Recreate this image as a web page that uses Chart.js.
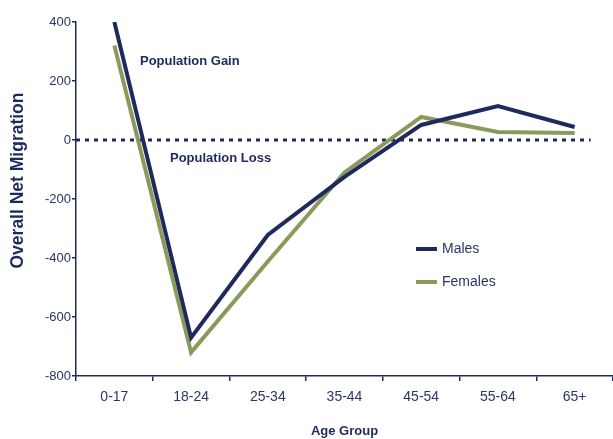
<!DOCTYPE html>
<html>
<head>
<meta charset="utf-8">
<script src="https://cdn.jsdelivr.net/npm/chart.js@4/dist/chart.umd.min.js"></script>
<style>
  html, body { margin: 0; padding: 0; background: #fff; }
  #wrap { width: 613px; height: 439px; }
</style>
</head>
<body>
<div id="wrap"><canvas id="chart" width="613" height="439"></canvas></div>
<script>
const ageGroups = ["0-17", "18-24", "25-34", "35-44", "45-54", "55-64", "65+"];
const males = [400, -670, -322, -125, 51, 115, 44];
const females = [320, -720, -412, -110, 78, 27, 24];
const yTicks = [-800, -600, -400, -200, 0, 200, 400];

const navy = "#1f2a5c";
const olive = "#8a9a5b";
const textColor = "#2b3566";
const fontFamily = "'Liberation Sans', Arial, sans-serif";

// zero line, notes, y title and legend drawn by hand
const extras = {
  id: "extras",
  beforeDatasetsDraw(chart) {
    const { ctx, chartArea, scales } = chart;
    const y0 = scales.y.getPixelForValue(0);
    ctx.save();
    ctx.strokeStyle = navy;
    ctx.lineWidth = 3;
    ctx.setLineDash([4, 5]);
    ctx.beginPath();
    ctx.moveTo(chartArea.left, y0);
    ctx.lineTo(scales.x.getPixelForValue(6) + 16, y0);
    ctx.stroke();
    ctx.restore();
  },
  afterDraw(chart) {
    const { ctx } = chart;
    ctx.save();
    ctx.fillStyle = navy;
    ctx.font = "bold 13px " + fontFamily;
    ctx.textBaseline = "middle";
    ctx.fillText("Population Gain", 140, 61);
    ctx.fillText("Population Loss", 170, 158);

    // y axis title
    ctx.save();
    ctx.translate(18, 180.5);
    ctx.rotate(-Math.PI / 2);
    ctx.textAlign = "center";
    ctx.font = "bold 17.5px " + fontFamily;
    ctx.fillText("Overall Net Migration", 0, 0);
    ctx.restore();

    // legend
    const items = [["Males", navy, 249], ["Females", olive, 282]];
    ctx.font = "14px " + fontFamily;
    items.forEach(([label, color, y]) => {
      ctx.fillStyle = color;
      ctx.fillRect(416, y - 2, 21, 4);
      ctx.fillStyle = textColor;
      ctx.fillText(label, 442, y);
    });
    ctx.restore();
  }
};

new Chart(document.getElementById("chart"), {
  type: "line",
  data: {
    labels: ageGroups,
    datasets: [
      { label: "Males", data: males, borderColor: navy, borderWidth: 4, pointRadius: 0, tension: 0 },
      { label: "Females", data: females, borderColor: olive, borderWidth: 4, pointRadius: 0, tension: 0 }
    ]
  },
  options: {
    responsive: false,
    animation: false,
    layout: { padding: { top: 22, right: 0, left: 0, bottom: 0 } },
    plugins: { legend: { display: false }, tooltip: { enabled: false } },
    scales: {
      x: {
        offset: true,
        grid: { offset: true, drawOnChartArea: false, drawTicks: true, tickLength: 5, color: navy, lineWidth: 1.5 },
        border: { color: navy, width: 1.5 },
        ticks: { color: textColor, padding: 8, font: { size: 14, family: fontFamily } },
        title: {
          display: true, text: "Age Group", color: navy,
          font: { size: 13, weight: "bold", family: fontFamily },
          padding: { top: 20, bottom: 0 }
        },
        afterFit(scale) { scale.height = 63; }
      },
      y: {
        min: -800, max: 400,
        afterBuildTicks(scale) { scale.ticks = yTicks.map(v => ({ value: v })); },
        grid: { drawOnChartArea: false, drawTicks: true, tickLength: 4, color: navy, lineWidth: 1.5 },
        border: { color: navy, width: 1.5 },
        ticks: { color: textColor, padding: 1, font: { size: 13, family: fontFamily } },
        afterFit(scale) { scale.width = 76; }
      }
    }
  },
  plugins: [extras]
});
</script>
</body>
</html>
